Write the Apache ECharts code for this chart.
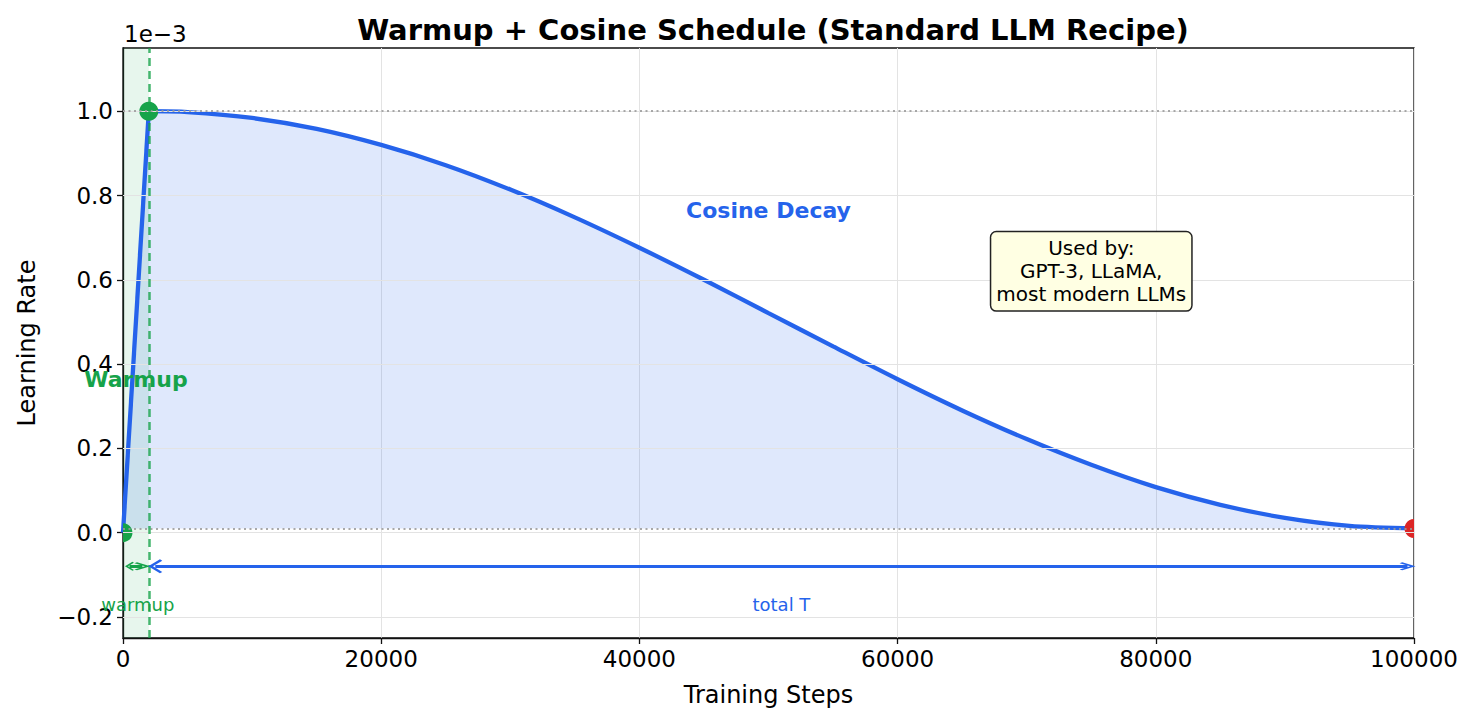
<!DOCTYPE html>
<html>
<head>
<meta charset="utf-8">
<script src="https://cdn.jsdelivr.net/npm/echarts@6/dist/echarts.min.js"></script>
<style>
  html, body { margin: 0; padding: 0; background: #fff; }
  #chart { width: 1476px; height: 725px; }
</style>
</head>
<body>
<div id="chart"></div>
<script>
// values, learning rate shown in units of 1e-3
const warmupSteps = [0, 2000];
const warmupLr = [0.0, 1.0];
const decaySteps = [2000, 5000, 10000, 15000, 20000, 25000, 30000, 35000, 40000, 45000, 50000,
                    55000, 60000, 65000, 70000, 75000, 80000, 85000, 90000, 95000, 100000];
const decayLr = [1.0, 0.998, 0.984, 0.958, 0.920, 0.872, 0.814, 0.748, 0.676, 0.600, 0.521,
                 0.442, 0.364, 0.290, 0.222, 0.161, 0.108, 0.066, 0.035, 0.016, 0.010];
const yTicks = [-0.2, 0.0, 0.2, 0.4, 0.6, 0.8, 1.0];
const peakLr = 1.0;
const minLr = 0.01;
const warmupEnd = 2000;
const totalSteps = 100000;
const arrowY = -0.08;
const greenPoints = [[0, 0.0], [2000, 1.0]];
const redPoints = [[100000, 0.01]];

const BLUE = '#2563eb';
const GREEN = '#16a34a';
const RED = '#dc2626';
const FONT = 'DejaVu Sans';

const zip = (xs, ys) => xs.map((x, i) => [x, ys[i]]);
const minus = v => (v < 0 ? '\u2212' : '') + Math.abs(v).toFixed(1);
// open chevron head, tip pointing up (markLine rotates it along the line)
const chevron = 'path://M0,0 L10,10 L8,12 L0,4 L-8,12 L-10,10 Z';

const chart = echarts.init(document.getElementById('chart'), null, { renderer: 'svg' });

const textPoint = (x, y, label) => ({ value: [x, y], label });

// dots as a custom series so the grid clips the ones sitting on the frame
const dots = (data, color) => ({
  type: 'custom', z: 4, clip: true, silent: true, data,
  renderItem: (params, api) => {
    const p = api.coord([api.value(0), api.value(1)]);
    return { type: 'circle', shape: { cx: p[0], cy: p[1], r: 9.5 }, style: { fill: color } };
  }
});

chart.setOption({
  animation: false,
  textStyle: { fontFamily: FONT },
  title: {
    text: 'Warmup + Cosine Schedule (Standard LLM Recipe)',
    left: 768, top: 10, textAlign: 'center',
    textStyle: { fontFamily: FONT, fontWeight: 'bold', fontSize: 29, color: '#000' }
  },
  graphic: [{
    type: 'text', left: 124, top: 22,
    style: { text: '1e\u22123', font: '23px "DejaVu Sans"', fill: '#000' }
  }],
  grid: { left: 123, right: 62, top: 48, bottom: 87, show: true, borderColor: '#111', borderWidth: 1.3 },
  xAxis: {
    type: 'value', min: 0, max: totalSteps, interval: 20000,
    name: 'Training Steps', nameLocation: 'middle', nameGap: 45,
    nameTextStyle: { fontFamily: FONT, fontSize: 24, color: '#000' },
    axisLine: { onZero: false, lineStyle: { color: '#111', width: 1.3 } },
    axisTick: { length: 6, lineStyle: { color: '#111', width: 1.3 } },
    axisLabel: { fontFamily: FONT, fontSize: 23, color: '#000', margin: 9, formatter: v => String(v) },
    splitLine: { show: true, lineStyle: { color: '#e3e3e3', width: 1 } }
  },
  yAxis: {
    type: 'value', min: -0.25, max: 1.15,
    name: 'Learning Rate', nameLocation: 'middle', nameGap: 84,
    nameTextStyle: { fontFamily: FONT, fontSize: 24, color: '#000' },
    axisLine: { show: true, onZero: false, lineStyle: { color: '#111', width: 1.3 } },
    axisTick: { show: true, length: 6, customValues: yTicks, lineStyle: { color: '#111', width: 1.3 } },
    axisLabel: { fontFamily: FONT, fontSize: 23, color: '#000', margin: 10, customValues: yTicks, formatter: minus },
    splitLine: { show: false }
  },
  series: [
    {
      // background: warmup band, y grid lines
      type: 'line', data: [], silent: true, z: 1,
      markArea: {
        silent: true,
        itemStyle: { color: 'rgba(22,163,74,0.1)', opacity: 1 },
        data: [[{ xAxis: 0 }, { xAxis: warmupEnd }]]
      },
      markLine: {
        silent: true, symbol: 'none', label: { show: false }, animation: false,
        lineStyle: { color: '#e3e3e3', width: 1, type: 'solid' },
        data: yTicks.map(v => ({ yAxis: v }))
      }
    },
    {
      name: 'warmup', type: 'line', z: 3,
      data: zip(warmupSteps, warmupLr),
      showSymbol: false,
      lineStyle: { color: BLUE, width: 4.3 },
      areaStyle: { color: 'rgba(37,99,235,0.15)', opacity: 1, origin: minLr }
    },
    {
      name: 'cosine', type: 'line', z: 3,
      data: zip(decaySteps, decayLr),
      smooth: 0.3,
      showSymbol: false,
      lineStyle: { color: BLUE, width: 4.3 },
      areaStyle: { color: 'rgba(37,99,235,0.15)', opacity: 1, origin: minLr }
    },
    {
      // reference levels and warmup boundary, drawn over the fill
      type: 'line', data: [], silent: true, z: 2,
      markLine: {
        silent: true, symbol: 'none', label: { show: false }, animation: false,
        data: [
          { yAxis: peakLr, lineStyle: { color: '#9a9a9a', width: 2.2, type: [2, 3.5], opacity: 0.85 } },
          { yAxis: minLr, lineStyle: { color: '#9a9a9a', width: 2.2, type: [2, 3.5], opacity: 0.85 } },
          { xAxis: warmupEnd, lineStyle: { color: 'rgba(22,163,74,0.8)', width: 2.5, type: [8, 5] } }
        ]
      }
    },
    {
      // span arrows
      type: 'line', data: [], silent: true, z: 3,
      markLine: {
        silent: true, label: { show: false }, animation: false,
        symbol: [chevron, chevron],
        data: [
          [{ coord: [500, arrowY], symbolSize: [9, 9], lineStyle: { color: GREEN, width: 3, type: 'solid' } },
           { coord: [1500, arrowY] }],
          [{ coord: [2500, arrowY], symbolSize: [14, 14], lineStyle: { color: BLUE, width: 3, type: 'solid' } },
           { coord: [99500, arrowY] }]
        ]
      }
    },
    dots(greenPoints, GREEN),
    dots(redPoints, RED),
    {
      // annotation texts
      type: 'scatter', z: 5, clip: false, silent: true,
      symbolSize: 0.1, itemStyle: { color: 'rgba(0,0,0,0)', opacity: 1 },
      label: { show: true, position: 'inside', fontFamily: FONT },
      data: [
        textPoint(50000, 0.765, { formatter: 'Cosine Decay', color: BLUE, fontWeight: 'bold', fontSize: 22 }),
        textPoint(1000, 0.363, { formatter: 'Warmup', color: GREEN, fontWeight: 'bold', fontSize: 22 }),
        textPoint(1150, -0.17, { formatter: 'warmup', color: GREEN, fontSize: 18 }),
        textPoint(51000, -0.17, { formatter: 'total T', color: BLUE, fontSize: 18 }),
        textPoint(75000, 0.62, {
          formatter: 'Used by:\nGPT-3, LLaMA,\nmost modern LLMs',
          color: '#000', fontSize: 20, lineHeight: 23, align: 'center',
          backgroundColor: '#ffffe3', borderColor: '#222', borderWidth: 1.5, borderRadius: 5,
          padding: [5, 5, 4, 5]
        })
      ]
    }
  ]
});
</script>
</body>
</html>
